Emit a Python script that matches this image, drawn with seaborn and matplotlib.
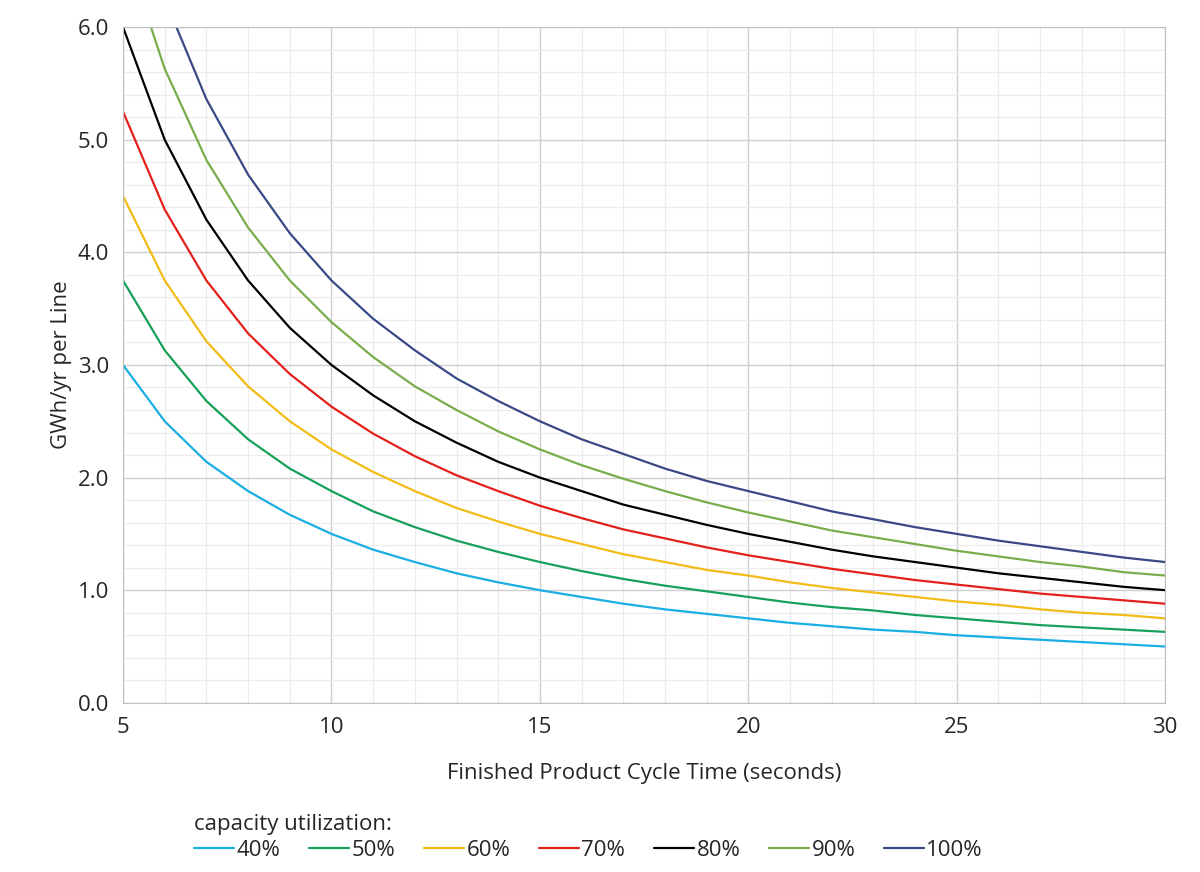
import numpy as np
import pandas as pd
import matplotlib
matplotlib.use("Agg")
import matplotlib.pyplot as plt
import seaborn as sns
from matplotlib.ticker import MultipleLocator

# cycle time (seconds)
cycle_time = list(range(5, 31))

# GWh/yr per line at each whole second
u40 = [3.00, 2.50, 2.14, 1.88, 1.67, 1.50, 1.36, 1.25, 1.15, 1.07, 1.00, 0.94, 0.88,
       0.83, 0.79, 0.75, 0.71, 0.68, 0.65, 0.63, 0.60, 0.58, 0.56, 0.54, 0.52, 0.50]
u50 = [3.75, 3.13, 2.68, 2.34, 2.08, 1.88, 1.70, 1.56, 1.44, 1.34, 1.25, 1.17, 1.10,
       1.04, 0.99, 0.94, 0.89, 0.85, 0.82, 0.78, 0.75, 0.72, 0.69, 0.67, 0.65, 0.63]
u60 = [4.50, 3.75, 3.21, 2.81, 2.50, 2.25, 2.05, 1.88, 1.73, 1.61, 1.50, 1.41, 1.32,
       1.25, 1.18, 1.13, 1.07, 1.02, 0.98, 0.94, 0.90, 0.87, 0.83, 0.80, 0.78, 0.75]
u70 = [5.25, 4.38, 3.75, 3.28, 2.92, 2.63, 2.39, 2.19, 2.02, 1.88, 1.75, 1.64, 1.54,
       1.46, 1.38, 1.31, 1.25, 1.19, 1.14, 1.09, 1.05, 1.01, 0.97, 0.94, 0.91, 0.88]
u80 = [6.00, 5.00, 4.29, 3.75, 3.33, 3.00, 2.73, 2.50, 2.31, 2.14, 2.00, 1.88, 1.76,
       1.67, 1.58, 1.50, 1.43, 1.36, 1.30, 1.25, 1.20, 1.15, 1.11, 1.07, 1.03, 1.00]
u90 = [6.75, 5.63, 4.82, 4.22, 3.75, 3.38, 3.07, 2.81, 2.60, 2.41, 2.25, 2.11, 1.99,
       1.88, 1.78, 1.69, 1.61, 1.53, 1.47, 1.41, 1.35, 1.30, 1.25, 1.21, 1.16, 1.13]
u100 = [7.50, 6.25, 5.36, 4.69, 4.17, 3.75, 3.41, 3.13, 2.88, 2.68, 2.50, 2.34, 2.21,
        2.08, 1.97, 1.88, 1.79, 1.70, 1.63, 1.56, 1.50, 1.44, 1.39, 1.34, 1.29, 1.25]

labels = ["40%", "50%", "60%", "70%", "80%", "90%", "100%"]
series = [u40, u50, u60, u70, u80, u90, u100]
colors = ["#1aaee3", "#17a05a", "#f2bc16", "#e3201b", "#000000", "#79ad4c", "#3a4985"]

rows = []
for lab, vals in zip(labels, series):
    for x, y in zip(cycle_time, vals):
        rows.append({"cycle": x, "gwh": y, "util": lab})
df = pd.DataFrame(rows)

sns.set_style("white")
plt.rcParams["font.family"] = ["Open Sans", "DejaVu Sans"]

fig = plt.figure(figsize=(12, 8.72), dpi=100)
ax = fig.add_axes([0.1025, 0.194, 0.8685, 0.775])

sns.lineplot(data=df, x="cycle", y="gwh", hue="util", hue_order=labels,
             palette=colors, linewidth=1.6, ax=ax)

ax.set_xlim(5, 30)
ax.set_ylim(0, 6)
ax.xaxis.set_major_locator(MultipleLocator(5))
ax.xaxis.set_minor_locator(MultipleLocator(1))
ax.yaxis.set_major_locator(MultipleLocator(1))
ax.yaxis.set_minor_locator(MultipleLocator(0.2))
ax.yaxis.set_major_formatter(matplotlib.ticker.FormatStrFormatter("%.1f"))
ax.grid(which="major", color="#cfcfcf", linewidth=1.0)
ax.grid(which="minor", color="#ececec", linewidth=0.8)
ax.set_axisbelow(True)
for s in ax.spines.values():
    s.set_color("#bfbfbf")
ax.tick_params(which="both", length=0, labelsize=16, pad=10)

ax.set_xlabel("Finished Product Cycle Time (seconds)", fontsize=16, labelpad=18)
ax.set_ylabel("GWh/yr per Line", fontsize=16)

ax.legend(title="capacity utilization:", loc="upper left", bbox_to_anchor=(0.06, -0.152),
          ncol=7, frameon=False, fontsize=16, title_fontsize=16, handlelength=1.8,
          handletextpad=0.1, columnspacing=1.3, alignment="left", borderaxespad=0,
          labelspacing=0.2)

fig.savefig("out.png", dpi=100)
